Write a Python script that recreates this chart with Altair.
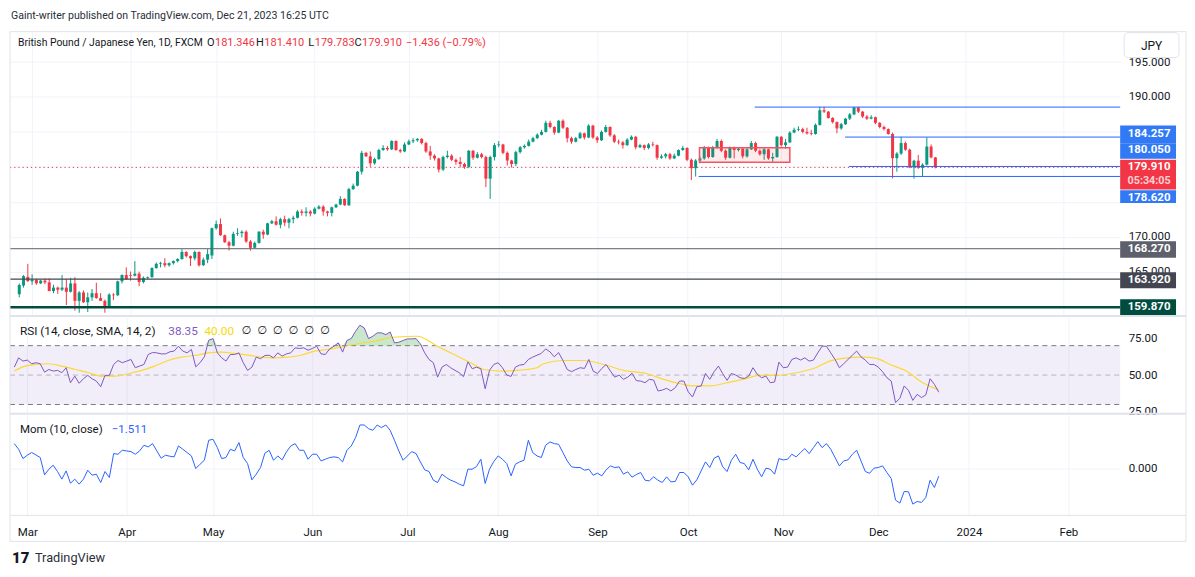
import altair as alt
import numpy as np
import pandas as pd

# ---------------- data ----------------
OPEN = [
    161.75, 163.0, 164.24, 163.6, 163.8, 163.3, 163.7, 163.45, 162.2, 162.7,
    162.4, 162.7, 162.1, 163.3, 160.8, 162.0, 160.6, 161.3, 161.9, 161.2,
    160.8, 159.9, 161.7, 161.6, 163.6, 164.5, 164.5, 164.4, 164.7, 163.5,
    164.1, 164.2, 165.5, 166.1, 166.2, 165.9, 166.2, 166.5, 166.8, 167.8,
    167.2, 166.9, 167.8, 165.9, 166.7, 167.3, 171.2, 171.8, 170.2, 169.2,
    168.7, 170.4, 170.5, 170.7, 169.3, 168.4, 169.1, 170.7, 170.3, 171.9,
    172.2, 171.7, 172.5, 172.0, 172.5, 172.7, 173.6, 173.4, 173.6, 173.3,
    174.0, 174.3, 173.6, 173.4, 174.2, 174.6, 175.4, 174.5, 176.8, 177.3,
    179.3, 182.0, 181.5, 180.5, 181.1, 182.4, 182.7, 182.5, 183.7, 182.4,
    182.2, 183.2, 183.65, 183.8, 184.0, 183.4, 182.2, 181.6, 181.2, 179.6,
    181.4, 181.6, 181.0, 180.7, 180.4, 180.0, 182.3, 181.3, 181.8, 181.4,
    178.3, 181.4, 183.1, 183.2, 182.0, 180.9, 180.4, 182.1, 182.8, 183.0,
    183.6, 184.1, 184.6, 185.0, 186.3, 185.7, 184.9, 186.6, 185.6, 184.1,
    183.6, 184.1, 184.8, 184.2, 185.9, 184.2, 183.8, 185.0, 185.7, 184.5,
    183.6, 183.5, 183.1, 183.9, 184.3, 182.8, 183.1, 182.7, 183.2, 183.1,
    181.3, 181.5, 181.8, 181.2, 181.6, 182.4, 182.7, 181.0, 179.8, 180.9,
    181.2, 182.8, 181.4, 182.8, 183.7, 182.3, 181.3, 182.7, 182.4, 182.6,
    181.5, 182.5, 183.4, 182.3, 181.8, 182.5, 181.2, 181.4, 184.3, 183.1,
    183.5, 184.9, 185.3, 185.4, 185.0, 184.8, 184.7, 186.0, 188.1, 187.9,
    187.0, 186.4, 185.5, 186.1, 186.9, 187.5, 188.5, 187.9, 187.2, 186.9,
    187.1, 186.3, 185.7, 185.4, 184.7, 181.24, 181.9, 183.4, 182.45, 179.9,
    180.87, 179.85, 180.3, 182.9, 181.346,
]
HIGH = [
    163.3, 164.5, 166.1, 164.6, 163.95, 163.8, 164.0, 164.0, 163.1, 162.85,
    164.5, 163.9, 164.1, 164.2, 162.2, 162.3, 162.0, 162.5, 163.4, 161.9,
    161.0, 161.9, 161.9, 163.7, 164.6, 165.6, 165.0, 166.5, 165.0, 164.3,
    164.3, 165.6, 166.3, 166.4, 166.9, 166.3, 166.6, 166.9, 168.2, 167.9,
    167.3, 168.0, 167.9, 167.0, 168.2, 171.3, 172.3, 172.6, 170.3, 169.4,
    170.7, 171.2, 170.9, 170.9, 169.5, 169.3, 170.8, 171.0, 172.0, 172.4,
    172.9, 172.7, 173.0, 172.7, 173.0, 173.8, 173.9, 174.2, 173.8, 174.2,
    174.5, 174.5, 173.7, 174.3, 174.7, 175.8, 175.5, 177.0, 177.6, 179.4,
    182.3, 182.1, 182.2, 181.3, 182.6, 183.1, 183.0, 183.8, 183.8, 182.6,
    183.5, 183.9, 184.1, 184.1, 184.1, 183.6, 183.0, 181.8, 181.3, 181.6,
    182.3, 181.8, 181.2, 181.4, 180.6, 182.4, 182.4, 182.1, 182.0, 181.6,
    181.6, 183.4, 183.7, 183.3, 182.2, 181.0, 182.3, 183.0, 183.2, 183.9,
    184.3, 184.8, 185.3, 186.6, 186.6, 185.8, 186.7, 186.8, 185.7, 184.3,
    184.3, 185.0, 184.9, 186.1, 186.0, 184.4, 185.2, 186.0, 185.8, 184.7,
    183.9, 183.7, 184.1, 184.5, 184.4, 183.3, 183.2, 183.4, 183.6, 183.2,
    181.8, 182.0, 182.0, 181.9, 182.5, 183.0, 182.8, 181.2, 181.1, 181.5,
    183.0, 182.9, 183.0, 184.0, 183.9, 182.5, 182.9, 182.9, 182.8, 182.7,
    182.7, 183.7, 183.6, 182.5, 182.7, 182.6, 182.0, 184.4, 184.4, 184.0,
    185.1, 185.6, 185.8, 185.6, 185.6, 185.3, 186.2, 188.6, 188.6, 188.0,
    187.1, 186.5, 186.3, 187.0, 187.7, 188.6, 188.6, 188.0, 187.4, 187.4,
    187.2, 186.4, 185.9, 185.5, 184.9, 182.1, 184.3, 183.6, 182.6, 181.0,
    181.7, 180.5, 184.2, 183.2, 181.41,
]
LOW = [
    161.3, 162.7, 163.5, 163.1, 163.1, 163.2, 163.2, 162.2, 161.9, 161.8,
    162.2, 160.2, 162.0, 159.4, 159.1, 160.5, 159.2, 160.8, 161.1, 160.8,
    159.1, 159.8, 160.9, 161.5, 163.3, 163.8, 163.7, 164.3, 162.9, 163.3,
    163.9, 164.1, 165.4, 165.6, 165.6, 165.7, 166.0, 166.3, 166.7, 167.0,
    165.8, 166.6, 165.7, 165.8, 166.2, 166.8, 171.0, 170.1, 169.1, 168.0,
    168.6, 170.1, 169.9, 169.1, 168.0, 168.3, 169.0, 169.7, 170.2, 171.8,
    171.6, 171.2, 171.5, 171.2, 171.9, 172.6, 173.0, 172.9, 172.9, 173.2,
    173.9, 173.0, 172.9, 172.9, 174.1, 174.5, 174.4, 174.4, 176.7, 177.2,
    178.9, 181.4, 180.0, 180.3, 181.0, 182.3, 182.3, 182.4, 182.3, 182.0,
    182.1, 183.1, 183.4, 183.6, 183.2, 182.0, 181.0, 180.9, 179.2, 179.4,
    181.2, 180.8, 180.3, 179.9, 179.7, 179.8, 181.0, 181.2, 181.2, 177.1,
    175.4, 180.9, 182.8, 181.8, 180.2, 179.9, 180.1, 181.9, 182.6, 182.9,
    183.5, 184.0, 184.5, 184.9, 185.5, 184.6, 184.8, 185.4, 183.5, 183.3,
    183.5, 184.0, 183.9, 184.1, 184.0, 183.4, 183.7, 184.9, 184.3, 183.4,
    183.2, 182.6, 183.0, 183.8, 182.5, 182.7, 182.4, 182.5, 182.9, 181.0,
    181.1, 181.2, 181.0, 181.1, 181.5, 182.3, 180.8, 178.1, 178.6, 180.5,
    181.0, 181.2, 181.3, 182.6, 182.1, 181.0, 181.2, 181.2, 182.2, 181.2,
    181.3, 182.4, 182.1, 181.6, 181.0, 181.0, 180.7, 181.3, 182.9, 182.6,
    183.4, 184.8, 185.1, 184.8, 184.6, 184.5, 184.6, 185.9, 187.7, 186.9,
    186.2, 184.8, 185.3, 186.0, 186.7, 187.4, 187.7, 187.0, 186.7, 186.8,
    186.1, 185.5, 185.2, 184.6, 178.35, 179.3, 181.7, 182.3, 179.8, 178.3,
    179.7, 178.6, 180.2, 181.2, 179.783,
]
CLOSE = [
    163.07, 164.34, 163.63, 163.8, 163.3, 163.7, 163.45, 162.2, 162.7, 162.4,
    162.7, 162.1, 163.3, 160.8, 162.0, 160.6, 161.3, 161.9, 161.2, 160.8,
    159.9, 161.7, 161.6, 163.6, 164.5, 163.9, 164.4, 164.7, 163.5, 164.1,
    164.2, 165.5, 166.1, 166.2, 165.9, 166.2, 166.5, 166.8, 167.8, 167.2,
    166.9, 167.8, 165.9, 166.7, 167.5, 171.2, 171.8, 170.2, 169.2, 168.7,
    170.4, 170.5, 170.7, 169.3, 168.4, 169.1, 170.7, 170.3, 171.9, 172.2,
    171.7, 172.5, 172.0, 172.5, 172.7, 173.6, 173.4, 173.6, 173.3, 174.0,
    174.3, 173.6, 173.4, 174.2, 174.6, 175.4, 174.5, 176.8, 177.3, 179.3,
    182.0, 181.5, 180.5, 181.1, 182.4, 182.7, 182.5, 183.7, 182.4, 182.2,
    183.2, 183.65, 183.8, 184.0, 183.4, 182.2, 181.6, 181.2, 179.6, 181.4,
    181.6, 181.0, 180.7, 180.4, 180.0, 182.3, 181.3, 181.8, 181.4, 178.3,
    181.4, 183.1, 183.2, 182.0, 180.9, 180.4, 182.1, 182.8, 183.0, 183.6,
    184.1, 184.6, 185.0, 186.3, 185.7, 184.9, 186.6, 185.6, 184.1, 183.6,
    184.1, 184.8, 184.2, 185.9, 184.2, 183.8, 185.0, 185.7, 184.5, 183.6,
    183.5, 183.1, 183.9, 184.3, 182.8, 183.1, 182.7, 183.2, 183.1, 181.3,
    181.5, 181.8, 181.2, 181.6, 182.4, 182.7, 181.0, 179.8, 180.9, 181.2,
    182.8, 181.4, 182.8, 183.7, 182.3, 181.3, 182.7, 182.4, 182.6, 181.5,
    182.5, 183.4, 182.3, 181.8, 182.5, 181.2, 181.4, 184.3, 183.1, 183.5,
    184.9, 185.3, 185.4, 185.0, 184.8, 184.7, 186.0, 188.1, 187.9, 187.0,
    186.4, 185.5, 186.1, 186.9, 187.5, 188.5, 187.9, 187.2, 186.9, 187.1,
    186.3, 185.7, 185.4, 184.7, 181.24, 181.9, 183.4, 182.45, 179.9, 180.87,
    179.85, 180.3, 182.9, 181.35, 179.91,
]
RSI = [
    55.4, 61.7, 59.5, 60.2, 57.7, 58.4, 57.7, 52.0, 53.8, 52.7,
    53.2, 51.6, 55.0, 44.8, 49.3, 44.4, 47.5, 49.8, 47.5, 45.9,
    42.1, 49.8, 49.8, 57.2, 59.9, 58.4, 59.5, 60.6, 55.0, 56.1,
    57.2, 64.0, 65.3, 65.1, 64.4, 64.4, 65.8, 66.3, 69.6, 66.3,
    65.1, 67.4, 55.6, 58.4, 62.4, 73.7, 74.8, 65.1, 61.7, 59.5,
    64.0, 64.0, 65.1, 58.4, 53.2, 55.4, 62.2, 61.1, 63.3, 63.5,
    61.7, 65.1, 62.9, 64.4, 65.1, 68.5, 68.1, 68.5, 66.9, 68.1,
    69.6, 64.4, 64.0, 67.8, 69.6, 71.9, 65.6, 73.5, 74.8, 79.8,
    83.9, 82.1, 74.8, 76.4, 78.7, 78.7, 77.5, 79.3, 71.9, 72.3,
    73.5, 74.6, 74.6, 74.8, 71.2, 65.1, 60.6, 58.4, 48.6, 55.4,
    57.2, 55.0, 53.2, 51.6, 48.9, 59.0, 54.3, 55.4, 54.3, 40.7,
    53.2, 57.2, 58.4, 55.0, 50.0, 49.1, 55.4, 56.8, 57.2, 60.6,
    62.2, 63.5, 64.7, 67.8, 65.8, 62.4, 65.3, 59.9, 53.8, 52.3,
    53.8, 55.0, 54.5, 60.6, 52.7, 51.1, 54.5, 57.2, 52.7, 48.6,
    50.0, 47.1, 48.6, 51.2, 46.2, 45.9, 44.8, 47.1, 46.6, 39.2,
    39.8, 41.0, 39.2, 41.4, 45.9, 45.9, 38.7, 35.1, 42.1, 42.6,
    51.1, 47.1, 52.3, 56.1, 50.9, 46.4, 51.1, 50.0, 48.2, 47.7,
    49.3, 55.0, 50.5, 48.2, 49.3, 44.8, 45.3, 58.8, 55.0, 55.4,
    60.6, 61.7, 60.2, 61.7, 59.5, 60.2, 65.1, 69.6, 69.6, 65.1,
    60.6, 55.0, 57.7, 60.6, 63.5, 66.3, 62.4, 60.2, 57.2, 57.2,
    55.4, 52.3, 48.2, 45.9, 31.3, 34.2, 42.6, 39.6, 32.8, 36.9,
    34.7, 36.5, 47.5, 43.7, 38.35,
]
MOM = [
    4.90, 3.79, 1.96, 2.61, 3.14, 2.68, 2.16, -1.24, -0.13, 0.65,
    -0.59, -2.09, -0.46, -2.88, -2.09, -3.07, -2.09, -0.33, -1.31, -1.11,
    -2.75, -0.59, -1.76, 2.94, 2.81, 3.59, 3.46, 3.33, 2.81, 3.46,
    4.58, 4.25, 4.90, 3.46, 2.03, 2.61, 2.42, 2.29, 4.44, 3.79,
    3.14, 2.48, 0.0, 0.85, 1.63, 5.56, 5.75, 4.12, 1.96, 2.16,
    3.79, 3.46, 5.10, 2.16, 0.98, -2.22, -1.11, 0.20, 3.01, 3.59,
    1.63, 2.48, 1.70, 3.27, 4.44, 4.90, 3.59, 3.59, 1.83, 2.81,
    2.81, 1.50, 1.83, 2.16, 2.29, 2.16, 1.31, 3.59, 4.44, 6.08,
    8.56, 8.56, 7.84, 7.52, 8.56, 8.04, 8.56, 7.52, 5.56, 3.46,
    1.63, 2.48, 3.33, 2.94, 1.31, -0.26, -0.59, -2.29, -2.75, -1.11,
    -1.76, -2.29, -2.61, -3.07, -3.40, -0.13, -0.13, 0.39, 1.83, -2.94,
    -0.13, 1.37, 2.48, 1.83, 0.98, -1.44, 0.85, 1.31, 1.63, 5.56,
    3.14, 2.48, 2.16, 4.58, 5.23, 4.90, 4.77, 3.14, 1.50, 0.33,
    0.20, 0.20, -0.33, -0.13, -1.31, -0.92, -1.44, -0.26, 0.52, 0.20,
    0.33, -1.11, -0.65, -1.70, -1.18, -0.78, -2.29, -2.42, -1.63, -2.29,
    -2.75, -1.63, -2.61, -2.55, -0.78, -0.78, -1.63, -3.27, -2.22, -0.46,
    1.31, 0.20, 2.03, 2.48, 0.33, -0.59, 1.63, 2.81, 1.18, 0.98,
    -0.26, 1.83, -0.13, -1.63, 0.07, -0.13, -1.11, 1.96, 1.70, 1.83,
    2.81, 2.29, 3.14, 3.92, 2.94, 4.12, 5.29, 4.12, 4.90, 3.79,
    2.16, 0.52, 1.50, 1.70, 2.81, 3.59, 1.50, -0.59, -0.92, 0.07,
    0.20, 0.52, -0.78, -1.96, -6.21, -6.80, -4.51, -4.58, -6.99, -6.47,
    -6.67, -5.69, -2.29, -3.73, -1.511,
]
RSI_MA_K = [1, 2.8, 5.9, 8.9, 12, 15.1, 18.2, 21.2, 24.3, 27.4,
            30.5, 33.5, 36.6, 39.7, 42.8, 45.8, 48.9, 52, 55.1, 58.2,
            61.2, 64.3, 67.4, 70.5, 73.5, 79.7, 84.3, 88.9, 94.3, 98.9,
            102.8, 106.6, 109.7, 114.3, 118.2, 122, 123.5, 128.2, 132.8, 137.4,
            142, 147.5, 151.3, 155.2, 158.3, 162.1, 166, 169.8, 173.6, 177.5,
            182, 186, 189.8, 192.9, 197.5, 200.6, 203.7, 207.5, 211.3, 215]
RSI_MA = [52.7, 55.4, 57.2, 57.7, 56.1, 53.8, 51.6, 49.3, 49.3, 50.9,
          53.2, 56.1, 59.9, 62.2, 63.3, 65.1, 65.6, 64.7, 63.5, 62.2,
          61.7, 62.2, 63.5, 66.3, 67.4, 70.8, 73.0, 75.7, 76.4, 69.6,
          64.0, 58.4, 53.8, 52.7, 53.4, 55.0, 57.7, 59.9, 59.9, 57.2,
          53.2, 50.9, 47.1, 44.1, 42.6, 42.6, 44.8, 47.1, 49.8, 49.8,
          51.6, 54.5, 59.5, 61.3, 62.2, 61.3, 57.2, 52.7, 44.8, 40.0]

MONTH_K = [4, 27, 47, 70, 92, 113, 136, 157, 179, 201, 222, 245]
MONTH_LABELS = ["Mar", "Apr", "May", "Jun", "Jul", "Aug", "Sep", "Oct", "Nov", "Dec", "2024", "Feb"]
PRICE_TICKS = [160, 165, 170, 175, 180, 185, 190, 195]
PRICE_TICKS_HIDDEN = [160, 175, 180, 185]   # labels covered by the price tags
RSI_TICKS = [25, 50, 75]
RSI_LEVELS = [70, 50, 30]
MOM_TICKS = [0]
RAY_LEVELS = [188.55, 184.257, 180.05, 178.62]
RAY_START_K = [172.8, 193.9, 194.8, 159.7]
HLINE_LEVELS = [168.27, 163.92, 159.87]
LAST_PRICE = 179.910
COUNTDOWN = "05:34:05"
BOX_K = [159.9, 181.0]
BOX_PRICE = [180.67, 182.74]
TAG_LEVELS = [184.257, 180.050, 179.910, 178.620, 168.270, 163.920, 159.870]
HEADER = "Gaint-writer published on TradingView.com, Dec 21, 2023 16:25 UTC"
SYMBOL = "British Pound / Japanese Yen, 1D, FXCM"
OHLC = ["181.346", "181.410", "179.783", "179.910"]
CHANGE = "\u22121.436 (\u22120.79%)"
RSI_TITLE = "RSI (14, close, SMA, 14, 2)"
RSI_VALS = ["38.35", "40.00"]
MOM_TITLE = "Mom (10, close)"
MOM_VAL = "\u22121.511"

# ---------------- layout / style ----------------
W, HP, HR, HM = 1113, 285, 98, 102
AX = 1179
XDOM = [0, 257]
PRICE_DOM = [158.643, 199.357]
RSI_DOM = [23.76, 90.20]
MOM_DOM = [-9.216, 10.784]
FONT = "Roboto"
TXT = "#131722"
GRID = "#f0f3fa"
BORDER = "#e0e3eb"
UP, DOWN = "#089981", "#f23645"
BLUE_LINE, BLUE_TAG = "#2962ff", "#3179f5"

n = len(CLOSE)
df = pd.DataFrame({"k": np.arange(1, n + 1), "open": OPEN, "high": HIGH, "low": LOW,
                   "close": CLOSE, "rsi": RSI, "mom": MOM})
df["dir"] = np.where(df["close"] >= df["open"], "up", "down")
one = pd.DataFrame({"a": [0]})

label_expr = " : ".join(f"datum.value == {kk} ? '{lab}'" for kk, lab in zip(MONTH_K, MONTH_LABELS)) + " : ''"
price_label_expr = "(" + " || ".join(f"datum.value == {v}" for v in PRICE_TICKS_HIDDEN) + ") ? '' : datum.label"


def X(field="k", show=False):
    return alt.X(f"{field}:Q", scale=alt.Scale(domain=XDOM, nice=False, zero=False),
                 axis=alt.Axis(values=MONTH_K, grid=True, gridColor=GRID, ticks=False, domain=False,
                               labels=show, labelExpr=label_expr, labelFont=FONT, labelFontSize=11.5,
                               labelColor=TXT, labelPadding=11, labelFlush=False, title=None))


def Yq(field, dom, ticks, fmt, grid, expr=None):
    kw = {} if expr is None else {"labelExpr": expr}
    return alt.Y(f"{field}:Q", scale=alt.Scale(domain=dom, nice=False, zero=False),
                 axis=alt.Axis(orient="right", values=ticks, format=fmt, grid=grid, gridColor=GRID,
                               ticks=False, domain=False, labelFont=FONT, labelFontSize=11.5,
                               labelColor=TXT, labelPadding=8, labelFlush=False, title=None, **kw))


def text(t, x, y, color=TXT, size=11.5, weight="normal", align="left", font=FONT):
    return alt.Chart(one).mark_text(text=t, align=align, baseline="middle", font=font, fontSize=size,
                                    fontWeight=weight, color=color).encode(x=alt.value(x), y=alt.value(y))


def hrule(x1, x2, y, color=BORDER, w=1):
    return alt.Chart(one).mark_rule(color=color, strokeWidth=w).encode(
        x=alt.value(x1), x2=alt.value(x2), y=alt.value(y))


def vrule(x, y1, y2, color=BORDER, w=1):
    return alt.Chart(one).mark_rule(color=color, strokeWidth=w).encode(
        x=alt.value(x), y=alt.value(y1), y2=alt.value(y2))


cscale = alt.Scale(domain=["up", "down"], range=[UP, DOWN])


def pY(f):
    return Yq(f, PRICE_DOM, PRICE_TICKS, ".3f", True, price_label_expr)


# ---------------- price panel ----------------
wick = alt.Chart(df).mark_rule(strokeWidth=1).encode(
    x=X(), y=pY("low"), y2="high:Q", color=alt.Color("dir:N", scale=cscale, legend=None))
body = alt.Chart(df).mark_bar(size=3).encode(
    x=X(), y=pY("open"), y2="close:Q", color=alt.Color("dir:N", scale=cscale, legend=None))

box_df = pd.DataFrame({"k0": [BOX_K[0]], "k1": [BOX_K[1]], "p0": [BOX_PRICE[0]], "p1": [BOX_PRICE[1]]})
box = alt.Chart(box_df).mark_rect(fill=DOWN, fillOpacity=0.1, stroke="#f7525f", strokeWidth=1.5).encode(
    x=X("k0"), x2="k1:Q", y=pY("p0"), y2="p1:Q")

rays_df = pd.DataFrame({"level": RAY_LEVELS, "start": RAY_START_K})
rays = alt.Chart(rays_df).mark_rule(color=BLUE_LINE, strokeWidth=1).encode(
    x=X("start"), x2=alt.value(W), y=pY("level"))

hl_styles = [("#5d606b", 1), ("#434651", 1.2), ("#004d40", 2.5)]
hlines = [alt.Chart(pd.DataFrame({"level": [lv]})).mark_rule(color=c, strokeWidth=w).encode(
    x=alt.value(0), x2=alt.value(W), y=pY("level")) for lv, (c, w) in zip(HLINE_LEVELS, hl_styles)]

last_line = alt.Chart(pd.DataFrame({"level": [LAST_PRICE]})).mark_rule(
    color=DOWN, strokeWidth=1, strokeDash=[1.2, 3]).encode(x=alt.value(0), x2=alt.value(W), y=pY("level"))

tag_styles = [  # colour, box top offset, box bottom offset, text offset (px)
    (BLUE_TAG, -11.7, 6.6, -2.7),
    (BLUE_TAG, -22.85, -7.85, -16.2),
    (DOWN, -7.8, 22.2, -0.8),
    (BLUE_TAG, 13.9, 26.6, 21.2),
    ("#5d606b", -7.6, 9.1, 0.7),
    ("#434651", -6.8, 9.2, 1.3),
    ("#004d40", -8.1, 7.6, -0.5),
]
tags = []
for lv, (c, t0, t1, toff) in zip(TAG_LEVELS, tag_styles):
    d = pd.DataFrame({"level": [lv], "label": [f"{lv:.3f}"]})
    tags.append(alt.Chart(d).mark_rect(color=c, yOffset=t0, y2Offset=t1).encode(
        x=alt.value(W), x2=alt.value(W + 56), y=pY("level"), y2="level:Q"))
    tags.append(alt.Chart(d).mark_text(color="white", yOffset=toff, font=FONT, fontSize=11.5,
                                       fontWeight="bold", align="center", baseline="middle").encode(
        x=alt.value(W + 29), y=pY("level"), text="label:N"))
cd = pd.DataFrame({"level": [LAST_PRICE], "label": [COUNTDOWN]})
tags.append(alt.Chart(cd).mark_text(color="#fcd0d4", yOffset=14.0, font=FONT, fontSize=10.8,
                                    fontWeight="bold", align="center", baseline="middle").encode(
    x=alt.value(W + 29), y=pY("level"), text="label:N"))

jpy_box = alt.Chart(one).mark_rect(fill="white", stroke=BORDER, strokeWidth=1, cornerRadius=4).encode(
    x=alt.value(1117), x2=alt.value(1172), y=alt.value(1), y2=alt.value(26))

legend_parts = [
    hrule(0, 4, -22.5, color="white"),
    text(HEADER, 1, -16, color="#2a2e39", size=10.6),
    text(SYMBOL, 8, 11, size=10.4),
    text("O", 205, 11, size=11, align="right"), text(OHLC[0], 205.5, 11, color=DOWN, size=11),
    text("H", 254.5, 11, size=11, align="right"), text(OHLC[1], 255, 11, color=DOWN, size=11),
    text("L", 305, 11, size=11, align="right"), text(OHLC[2], 305.5, 11, color=DOWN, size=11),
    text("C", 352.5, 11, size=11, align="right"), text(OHLC[3], 353, 11, color=DOWN, size=11),
    text(CHANGE, 397, 11, color=DOWN, size=11),
    text("JPY", 1144.5, 14, size=12, align="center"),
]
frame_p = [hrule(0, AX, 0), vrule(0, 0, HP), vrule(AX, 0, HP), hrule(0, AX, HP, w=2)]

price = alt.layer(wick, body, box, rays, *hlines, last_line, *tags, jpy_box, *legend_parts, *frame_p
                  ).properties(width=W, height=HP)


# ---------------- RSI panel ----------------
def rY(f):
    return Yq(f, RSI_DOM, RSI_TICKS, ".2f", False)


band = alt.Chart(pd.DataFrame({"hi": [RSI_LEVELS[0]], "lo": [RSI_LEVELS[2]]})).mark_rect(
    color="#7e57c2", opacity=0.1).encode(x=alt.value(0), x2=alt.value(W), y=rY("hi"), y2="lo:Q")
lv_outer = alt.Chart(pd.DataFrame({"lv": [RSI_LEVELS[0], RSI_LEVELS[2]]})).mark_rule(
    color="#787b86", strokeDash=[5, 4], strokeWidth=1).encode(x=alt.value(0), x2=alt.value(W), y=rY("lv"))
lv_mid = alt.Chart(pd.DataFrame({"lv": [RSI_LEVELS[1]]})).mark_rule(
    color="#787b86", opacity=0.5, strokeDash=[5, 4], strokeWidth=1).encode(
    x=alt.value(0), x2=alt.value(W), y=rY("lv"))
ob_fill = alt.Chart(df).transform_calculate(ob="max(datum.rsi, 70)", base="70").mark_area(
    color="#4caf50", opacity=0.3).encode(x=X(), y=rY("ob"), y2="base:Q")
rsi_line = alt.Chart(df).mark_line(color="#7e57c2", strokeWidth=1).encode(x=X(), y=rY("rsi"))
ma_df = pd.DataFrame({"k": RSI_MA_K, "ma": RSI_MA})
ma_line = alt.Chart(ma_df).mark_line(color="#fdd835", strokeWidth=1.2, interpolate="monotone").encode(
    x=X(), y=rY("ma"))
rsi_text = [
    text(RSI_TITLE, 10, 15, size=11.8),
    text(RSI_VALS[0], 158.7, 15, color="#7e57c2", size=11.8),
    text(RSI_VALS[1], 195, 15, color="#f5d90a", size=11.8),
    text("\u2205\u2002\u2205\u2002\u2205\u2002\u2205\u2002\u2205\u2002\u2205", 232, 15,
         font="DejaVu Sans", size=11.5),
]
frame_r = [vrule(0, 0, HR), vrule(AX, 0, HR), hrule(0, AX, HR, w=2)]
rsi = alt.layer(band, lv_outer, lv_mid, ob_fill, ma_line, rsi_line, *rsi_text, *frame_r
                ).properties(width=W, height=HR)

# ---------------- Momentum panel ----------------
mom_line = alt.Chart(df).mark_line(color=BLUE_LINE, strokeWidth=1).encode(
    x=X(show=True), y=Yq("mom", MOM_DOM, MOM_TICKS, ".3f", True))
mom_text = [
    text(MOM_TITLE, 10, 16),
    text(MOM_VAL, 102, 16, color=BLUE_LINE),
    text("TradingView", 25, 145, size=12.8, color="#2a2e39"),
    text("17", 2, 145, size=15, weight=900),
]
frame_m = [vrule(0, 0, 128), vrule(AX, 0, 128), hrule(0, AX, HM), hrule(0, AX, 128)]
mom = alt.layer(mom_line, *mom_text, *frame_m).properties(width=W, height=HM)

chart = alt.vconcat(price, rsi, mom, spacing=0, bounds="flush").properties(
    padding=0, background="white").configure_view(stroke=None)

chart.save("out.html", embed_options={"renderer": "svg", "actions": False})
